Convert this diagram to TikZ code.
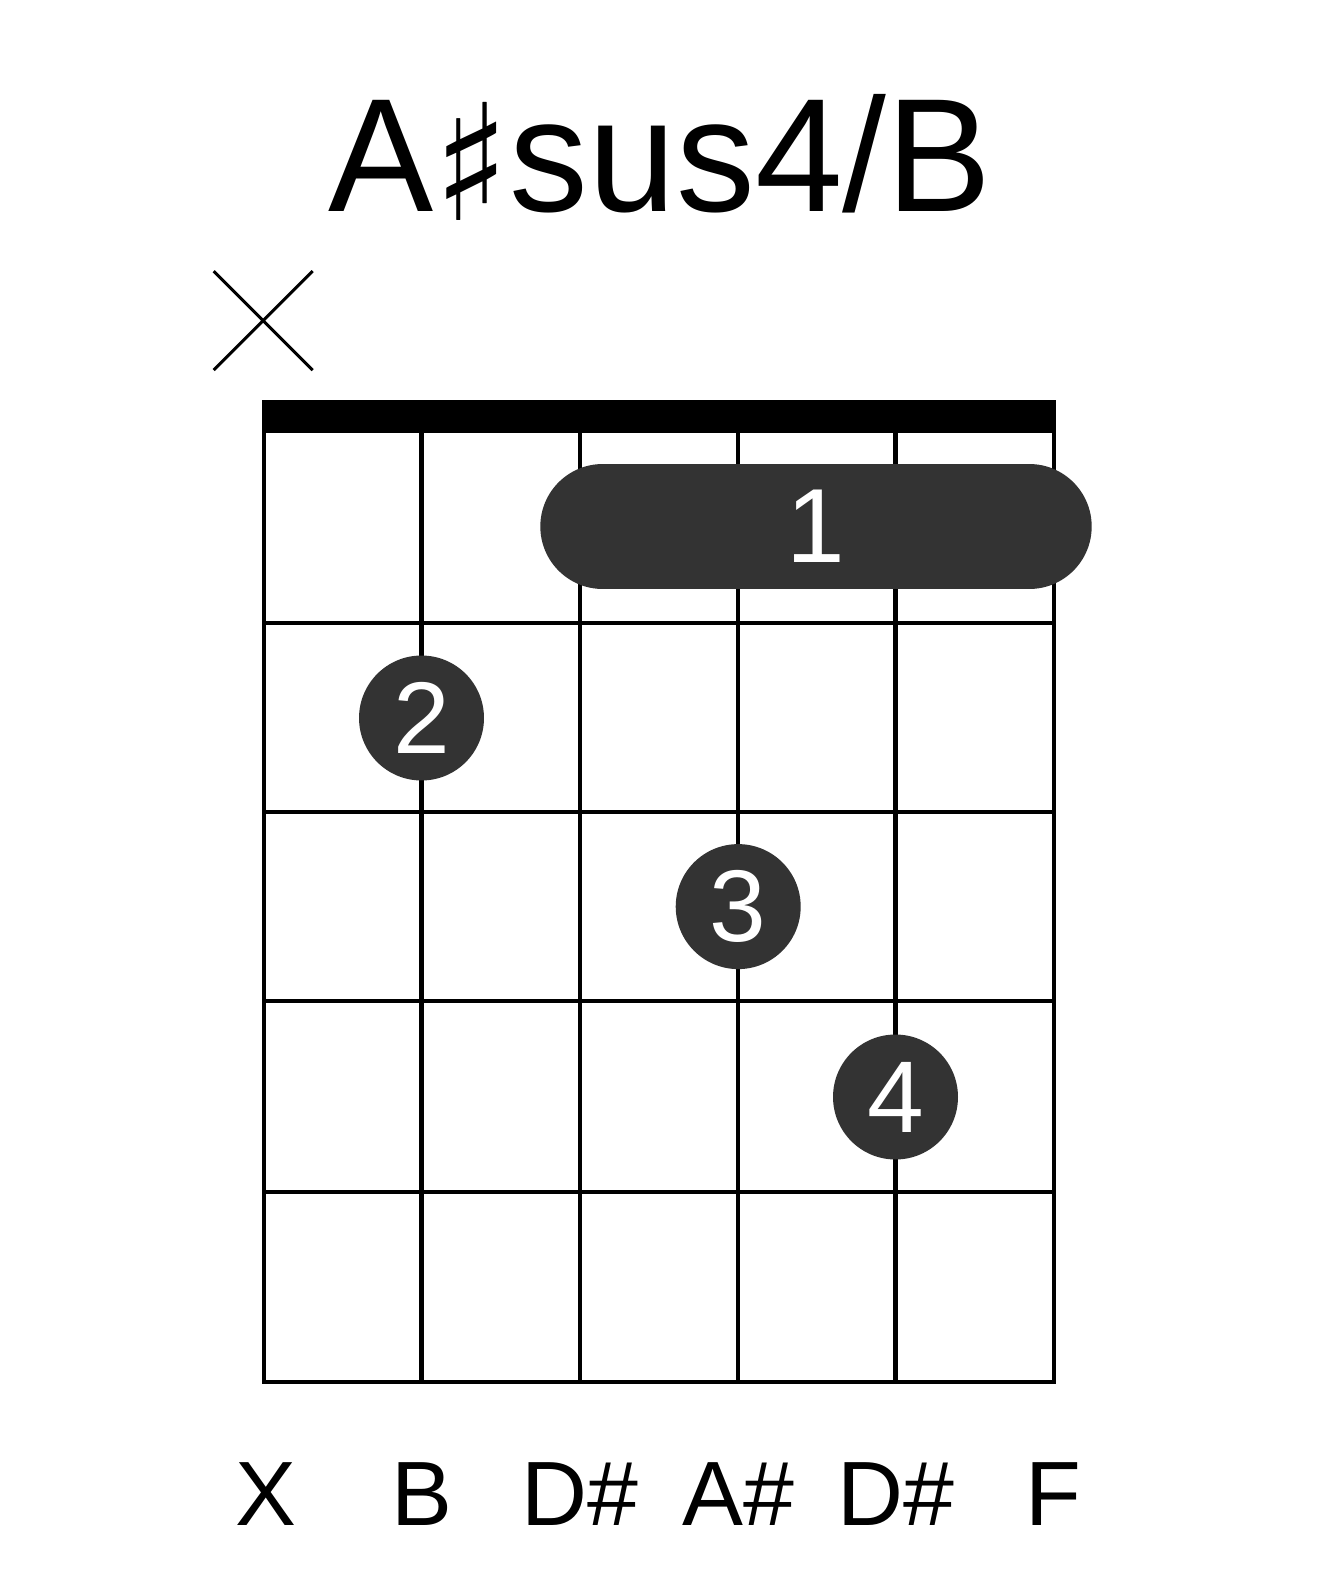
\documentclass[tikz,border=0pt]{standalone}
\usepackage{fontspec}
\setmainfont{Liberation Sans}
\newfontfamily\symfont{DejaVu Sans}
\usepackage{tikz}
\usetikzlibrary{
    positioning,
    shapes.misc
}
\definecolor{fingergray}{HTML}{333333}

\begin{document}
\begin{tikzpicture}[
    x=0.02cm,
    y=-0.02cm,
    gridline/.style={
        draw,
        line width=2.4pt
    },
    finger/.style={
        circle,
        fill=fingergray,
        text=white,
        inner sep=0pt,
        minimum size=2.5cm,
        font=\fontsize{58}{58}\selectfont
    },
    barre/.style={
        rectangle,
        fill=fingergray,
        text=white,
        rounded corners=1.25cm,
        inner sep=0pt,
        minimum width=11.03cm,
        minimum height=2.5cm,
        font=\fontsize{60}{60}\selectfont
    },
    mute/.style={
        cross out,
        draw,
        line width=1.7pt,
        minimum size=1.92cm,
        inner sep=0pt
    },
    notelabel/.style={
        anchor=base,
        font=\fontsize{52}{52}\selectfont
    }
]

% Page
\useasboundingbox[fill=white] (0,0) rectangle (1317,1581);

% Title
\node[anchor=base, font=\fontsize{92}{92}\selectfont] (title) at (660,212)
    {\scalebox{0.975}[1]{A\raisebox{-0.18cm}{\symfont ♯}sus4/B}};

% Muted string
\node[mute] (mutex) at (263.2,320.6) {};

% Nut
\fill (262,400) rectangle (1056,432);

% Strings and frets
\draw[gridline] (264,431) rectangle (1054,1382);
\draw[gridline] (421.5,431) -- (421.5,1382);
\draw[gridline] (579.8,431) -- (579.8,1382);
\draw[gridline] (738.2,431) -- (738.2,1382);
\draw[gridline] (895.5,431) -- (895.5,1382);
\draw[gridline] (264,623) -- (1054,623);
\draw[gridline] (264,812) -- (1054,812);
\draw[gridline] (264,1001) -- (1054,1001);
\draw[gridline] (264,1192) -- (1054,1192);

% Fingers
\node[barre] (f1) at (816,526.5) {1};
\node[finger] (f2) at (421.5,718) {2};
\node[finger] (f3) at (738.2,906.6) {3};
\node[finger] (f4) at (895.5,1097) {4};

% Note names
\node[notelabel] (n1) at (266,1525) {X};
\node[notelabel] (n2) at (421.5,1525) {B};
\node[notelabel] (n3) at (580,1525) {D\#};
\node[notelabel] (n4) at (738.2,1525) {A\#};
\node[notelabel] (n5) at (895.5,1525) {D\#};
\node[notelabel] (n6) at (1053.8,1525) {F};

\end{tikzpicture}
\end{document}
